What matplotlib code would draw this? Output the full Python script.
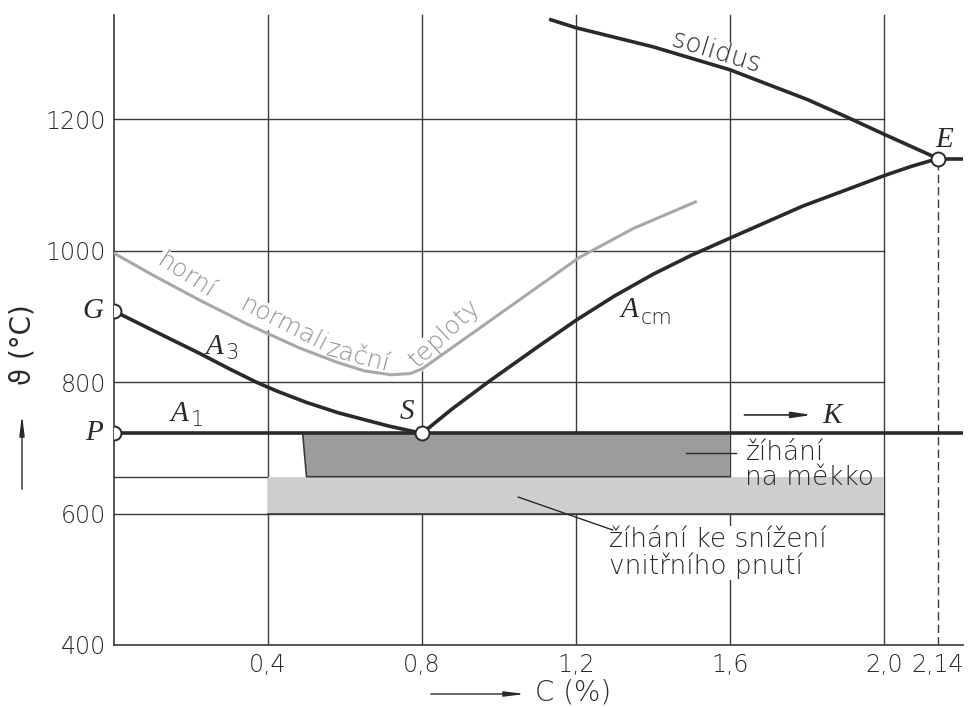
import matplotlib.pyplot as plt

# --- values (C in %, temperature in deg C) ---
c_ticks = [0.4, 0.8, 1.2, 1.6, 2.0, 2.14]
c_tick_labels = ['0,4', '0,8', '1,2', '1,6', '2,0', '2,14']
t_ticks = [400, 600, 800, 1000, 1200]
t_tick_labels = ['400', '600', '800', '1000', '1200']

a3_c = [0, 0.11, 0.221, 0.30, 0.369, 0.42, 0.5, 0.584, 0.714, 0.8]
a3_t = [908, 876, 844, 820, 800, 787, 769, 753, 733, 722]

acm_c = [0.8, 0.88, 0.974, 1.104, 1.2, 1.3, 1.4, 1.5, 1.6, 1.79, 1.9, 2.0, 2.07, 2.14]
acm_t = [722, 760, 801, 855, 894, 931, 964, 993, 1019, 1068, 1092, 1114, 1128, 1140]

solidus_c = [1.13, 1.2, 1.4, 1.6, 1.8, 1.9, 2.0, 2.14]
solidus_t = [1352, 1339, 1310, 1275, 1230, 1204, 1177, 1140]

norm_c = [0, 0.1, 0.221, 0.35, 0.481, 0.58, 0.65, 0.72, 0.77, 0.8, 0.87, 1.0, 1.207, 1.35, 1.51]
norm_t = [996, 963, 925, 887, 852, 830, 817, 811, 813, 820, 849, 903, 989, 1034, 1074]

a1_t = 722
eut_t = 1140
points = {'G': (0, 908), 'P': (0, 722), 'S': (0.8, 722), 'E': (2.14, 1140)}

soft_c = [0.49, 1.6]      # zihani na mekko
soft_t = [656, 722]
stress_c = [0.4, 2.0]     # zihani ke snizeni vnitrniho pnuti
stress_t = [600, 656]

sans = 'DejaVu Sans'
serif = 'Liberation Serif'
ink = '#2a2a2a'
grid = '#3a3a3a'

fig = plt.figure(figsize=(9.68, 7.07), dpi=100)
ax = fig.add_axes([114 / 968, 62 / 707, 849 / 968, 635 / 707])
ax.set_xlim(0, 2.205)
ax.set_ylim(400, 1366)
for s in ['top', 'right']:
    ax.spines[s].set_visible(False)
for s in ['left', 'bottom']:
    ax.spines[s].set_color(grid)
    ax.spines[s].set_linewidth(1.2)
ax.spines['left'].set_bounds(400, 1358)
ax.tick_params(length=0, labelsize=17, colors=ink, pad=6)
ax.set_xticks(c_ticks, c_tick_labels, fontfamily=sans, fontweight='light')
ax.set_yticks(t_ticks, t_tick_labels, fontfamily=sans, fontweight='light')

# grid lines
for c in c_ticks[:-1]:
    ax.plot([c, c], [400, 1358], color=grid, lw=1, zorder=1)
for t in t_ticks[1:]:
    ax.plot([0, 2.0], [t, t], color=grid, lw=1, zorder=1)
ax.plot([0, 0.4], [stress_t[1], stress_t[1]], color=grid, lw=1, zorder=1)
ax.plot([2.14, 2.14], [400, eut_t], color=grid, lw=1, ls=(0, (6, 3)), zorder=1)

# annealing bands
ax.fill_between(stress_c, stress_t[0], stress_t[1], color='#cfcfcf', lw=0, zorder=1.5)
ax.fill([soft_c[0], soft_c[1], soft_c[1], soft_c[0] + 0.01],
        [soft_t[1], soft_t[1], soft_t[0], soft_t[0]], color='#9c9c9c', lw=0, zorder=1.6)
ax.plot([soft_c[0], soft_c[0] + 0.01, soft_c[1]], [soft_t[1], soft_t[0], soft_t[0]],
        color=grid, lw=1.2, zorder=1.7)
ax.plot(stress_c, [stress_t[0], stress_t[0]], color=grid, lw=1.2, zorder=1.7)

# normalising curve (drawn over the white boxes of its own text)
ax.plot(norm_c, norm_t, color='#a8a8a8', lw=2.2, zorder=2.8)
ntxt = dict(color='#939393', fontsize=18, fontfamily=sans, fontweight='light',
            ha='center', va='center', rotation_mode='anchor', zorder=2.5,
            bbox=dict(facecolor='white', edgecolor='none', pad=0.2))
ax.text(0.185, 962, 'horní', rotation=-33, **ntxt)
ax.text(0.44, 888, 'normali', rotation=-27, **ntxt)
ax.text(0.635, 839, 'zační', rotation=-15, **ntxt)
ax.text(0.86, 874, 'teploty', rotation=43, **ntxt)

# phase lines
lk = dict(color=ink, lw=2.6, zorder=3, solid_capstyle='butt', solid_joinstyle='round')
ax.plot(a3_c, a3_t, **lk)
ax.plot(acm_c, acm_t, **lk)
ax.plot(solidus_c, solidus_t, **lk)
ax.plot([0, 2.205], [a1_t, a1_t], **lk)
ax.plot([2.14, 2.205], [eut_t, eut_t], **lk)

for name, (c, t) in points.items():
    ax.plot(c, t, 'o', ms=10, mfc='white', mec=ink, mew=1.4, zorder=5)

it = dict(fontfamily=serif, style='italic', fontsize=21, color=ink, va='center', zorder=6)
sub = dict(fontfamily=sans, fontweight='light', fontsize=15, color=ink, ha='left',
           va='center', zorder=6)
ax.text(-0.028, 908, 'G', ha='right', **it)
ax.text(-0.028, 722, 'P', ha='right', **it)
ax.text(0.76, 755, 'S', ha='center', **it)
ax.text(2.155, 1168, 'E', ha='center', **it)
ax.text(1.865, 748, 'K', ha='center', **it)
ax.text(0.17, 752, 'A', ha='center', **it)
ax.text(0.198, 742, '1', **sub)
ax.text(0.26, 854, 'A', ha='center', **it)
ax.text(0.288, 844, '3', **sub)
ax.text(1.34, 910, 'A', ha='center', **it)
ax.text(1.368, 898, 'cm', **sub)
ax.annotate('', xy=(1.82, 750), xytext=(1.63, 750),
            arrowprops=dict(arrowstyle='-|>,head_length=1.2,head_width=0.18', color=ink, lw=1.2))

ax.text(1.565, 1302, 'solidus', rotation=-17, ha='center', va='center', fontsize=19,
        fontfamily=sans, fontweight='light', color=ink, rotation_mode='anchor', zorder=2.5,
        bbox=dict(facecolor='white', edgecolor='none', pad=0.2))

lab = dict(fontfamily=sans, fontweight='light', fontsize=19, color=ink, ha='left',
           va='center', linespacing=1.0, zorder=6)
ax.text(1.64, 674, 'žíhání\nna měkko', **lab)
ax.plot([1.485, 1.615], [692, 692], color=ink, lw=1, zorder=6)
ax.text(1.285, 540, 'žíhání ke snížení\nvnitřního pnutí',
        bbox=dict(facecolor='white', edgecolor='none', pad=0.5), **lab)
ax.plot([1.05, 1.295], [625, 575], color=ink, lw=1, zorder=6)

# axis captions with arrows
fig.text(22 / 968, 1 - 345 / 707, 'ϑ (°C)', rotation=90, ha='center', va='center',
         fontsize=20, fontfamily=[sans, 'DejaVu Serif'], color=ink)
ax.annotate('', xy=(22 / 968, 1 - 412 / 707), xytext=(22 / 968, 1 - 492 / 707),
            xycoords='figure fraction',
            arrowprops=dict(arrowstyle='-|>,head_length=1.2,head_width=0.15', color=ink, lw=1))
ax.annotate('', xy=(528 / 968, 1 - 694 / 707), xytext=(428 / 968, 1 - 694 / 707),
            xycoords='figure fraction',
            arrowprops=dict(arrowstyle='-|>,head_length=1.2,head_width=0.15', color=ink, lw=1))
fig.text(535 / 968, 1 - 692 / 707, 'C (%)', ha='left', va='center', fontsize=20,
         fontfamily=sans, fontweight='light', color=ink)

fig.savefig('out.png', dpi=100, facecolor='white')
